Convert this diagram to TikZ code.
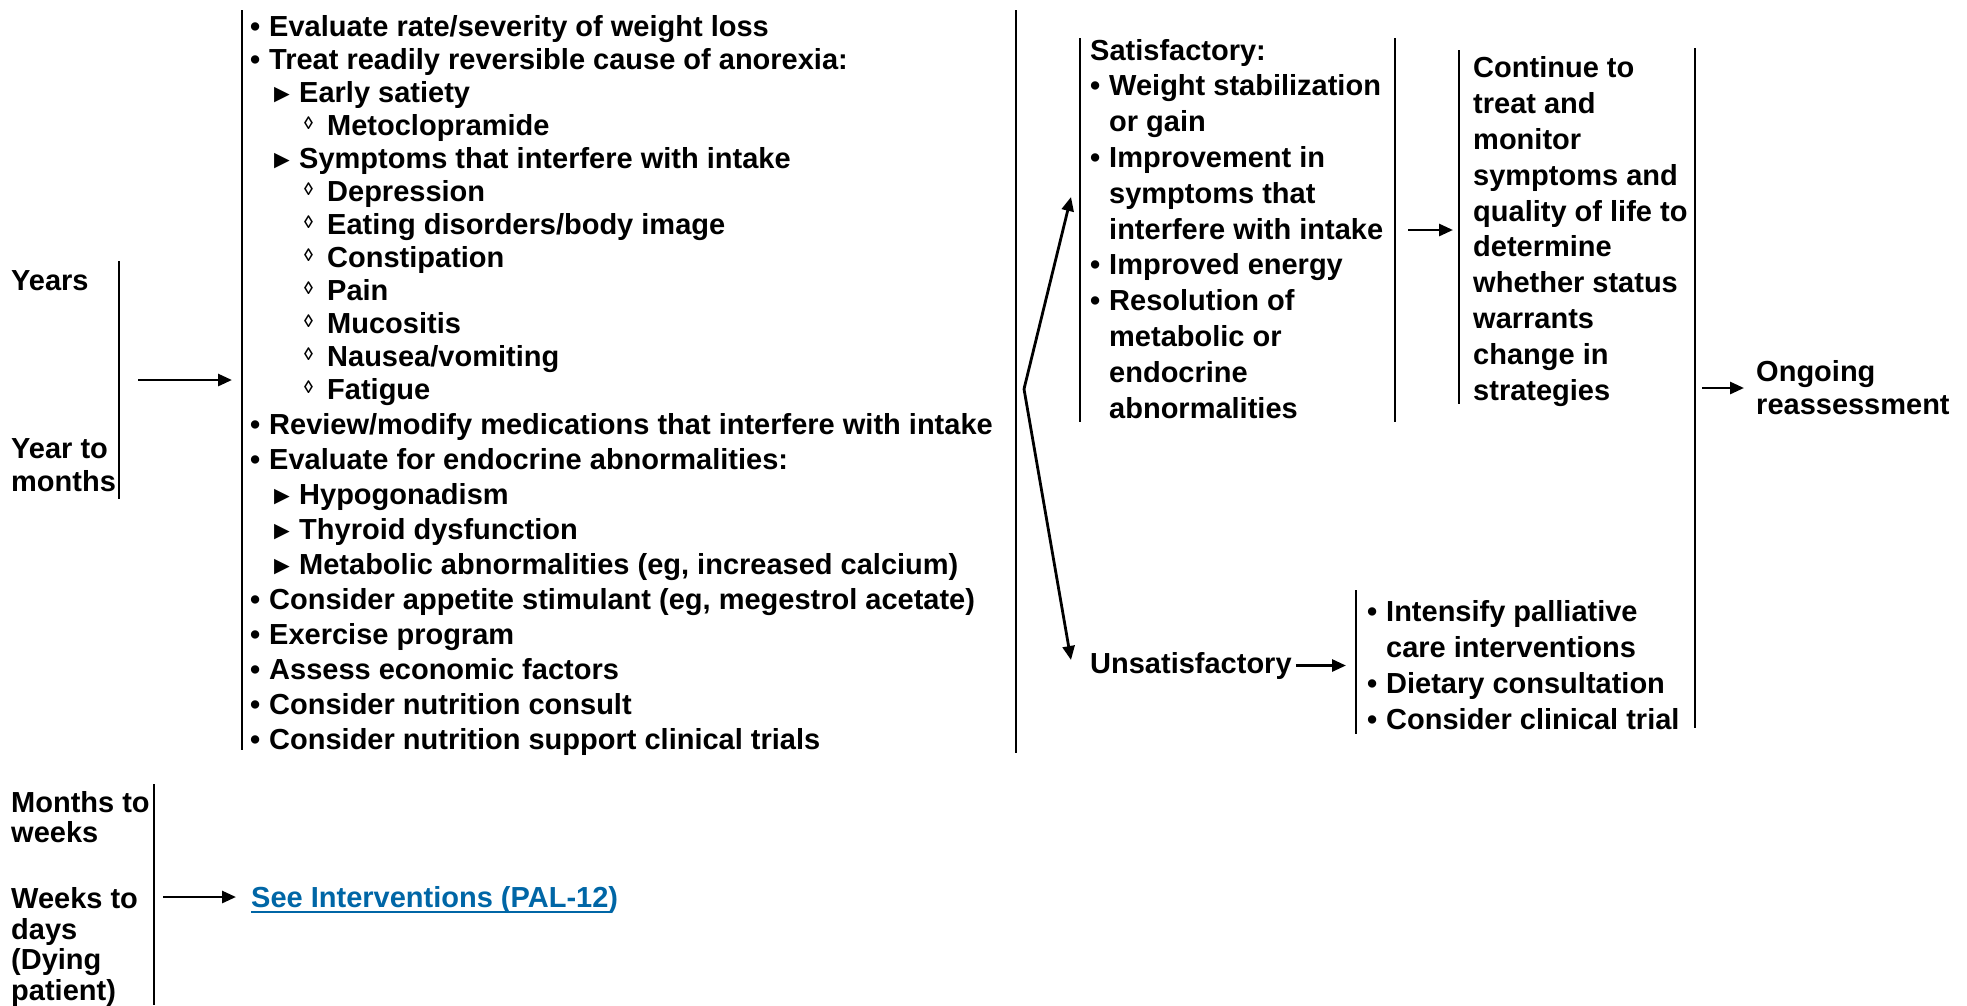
\documentclass[tikz,border=0pt]{standalone}
\usepackage{fontspec}
\setmainfont{Liberation Sans}
\usetikzlibrary{arrows.meta}

\definecolor{linkblue}{RGB}{0,102,166}
\newcommand{\lvlone}{\makebox[19pt][l]{•}}
\newcommand{\lvltwo}{\hspace*{19pt}\makebox[30pt][l]{\fontsize{26}{26}\selectfont ►}}
\newcommand{\lvlthree}{\hspace*{54pt}\makebox[23pt][l]{\raisebox{6pt}{\fontsize{18}{18}\selectfont ◊}}}
\newcommand{\indl}{\hspace*{19pt}}

\begin{document}
\begin{tikzpicture}[x=1pt,y=-1pt,
      every node/.style={inner sep=0pt,anchor=base west,align=left,
        font=\fontsize{29}{33}\selectfont\bfseries},
      wide/.style={font=\fontsize{29}{35.8}\selectfont\bfseries},
      bar/.style={line width=2.8pt},
      arr/.style={line width=2.8pt,-{Triangle[length=14pt,width=12pt]}}
    ]
    \useasboundingbox (0,0) rectangle (1967,1005);
    % (a multi-line node sits on the baseline of its last line)

    % the time frames
    \node (years) at (11,290) {Years};
    \node (yrmon) at (11,491) {Year to\\months};
    \node[font=\fontsize{29}{30}\selectfont\bfseries] (mowk) at (11,842) {Months to\\weeks};
    \node[font=\fontsize{29}{30.5}\selectfont\bfseries] (wkday) at (11,1000) {Weeks to\\days\\(Dying\\patient)};
    \draw[bar] (119,261) -- coordinate (tbar) (119,499);
    \draw[bar] (154,784) -- (154,1005);
    \coordinate (bbar) at (154,897);

    % the interventions
    \node (main) at (250,749) {\lvlone Evaluate rate/severity of weight loss\\
      \lvlone Treat readily reversible cause of anorexia:\\
      \lvltwo Early satiety\\
      \lvlthree Metoclopramide\\
      \lvltwo Symptoms that interfere with intake\\
      \lvlthree Depression\\
      \lvlthree Eating disorders/body image\\
      \lvlthree Constipation\\
      \lvlthree Pain\\
      \lvlthree Mucositis\\
      \lvlthree Nausea/vomiting\\
      \lvlthree Fatigue\\[2pt]
      \lvlone Review/modify medications that interfere with intake\\[2pt]
      \lvlone Evaluate for endocrine abnormalities:\\[2pt]
      \lvltwo Hypogonadism\\[2pt]
      \lvltwo Thyroid dysfunction\\[2pt]
      \lvltwo Metabolic abnormalities (eg, increased calcium)\\[2pt]
      \lvlone Consider appetite stimulant (eg, megestrol acetate)\\[2pt]
      \lvlone Exercise program\\[2pt]
      \lvlone Assess economic factors\\[2pt]
      \lvlone Consider nutrition consult\\[2pt]
      \lvlone Consider nutrition support clinical trials};
    \draw[bar] (242,10) -- coordinate (mainL) (242,750);
    \draw[bar] (1016,10) -- (1016,753);
    \coordinate (split) at (1024,389);

    % the outcomes
    \node[wide] (sat) at (1090,418) {Satisfactory:\\
      \lvlone Weight stabilization\\
      \indl or gain\\
      \lvlone Improvement in\\
      \indl symptoms that\\
      \indl interfere with intake\\
      \lvlone Improved energy\\
      \lvlone Resolution of\\
      \indl metabolic or\\
      \indl endocrine\\
      \indl abnormalities};
    \draw[bar] (1080,38) -- (1080,422);
    \draw[bar] (1395,38) -- coordinate (satR) (1395,422);
    \coordinate (up) at (1071,197);

    \node (unsat) at (1090,673) {Unsatisfactory};
    \coordinate (dn) at (1071,660);

    \node[font=\fontsize{29}{36}\selectfont\bfseries] (unslist) at (1367,729) {\lvlone Intensify palliative\\
      \indl care interventions\\
      \lvlone Dietary consultation\\
      \lvlone Consider clinical trial};
    \draw[bar] (1356,590) -- coordinate (unsL) (1356,734);

    \node[wide] (cont) at (1473,400) {Continue to\\treat and\\monitor\\symptoms and\\quality of life to\\determine\\whether status\\warrants\\change in\\strategies};
    \draw[bar] (1459,50) -- coordinate (contL) (1459,404);
    \draw[bar] (1695,48) -- coordinate (longR) (1695,728);

    \node (ongo) at (1756,414) {Ongoing\\reassessment};

    \node[text=linkblue] (pal) at (251,907) {See Interventions (PAL-12)};
    \draw[linkblue,line width=2pt] ([yshift=-5pt]pal.base west) -- ([yshift=-5pt,xshift=-6pt]pal.base east);

    % the arrows
    \draw[arr] ([xshift=19pt]tbar) -- ([xshift=-10pt]mainL);
    \draw[arr] (split) -- (up);
    \draw[arr] (split) -- (dn);
    \draw[arr] ([xshift=13pt]satR) -- ([xshift=-6pt]contL |- satR);
    \draw[arr] ([xshift=7pt]longR) -- ([xshift=-12pt]ongo.west |- longR);
    \draw[arr] ([xshift=4pt]unsat.east) -- ([xshift=-10pt]unsat.east -| unsL);
    \draw[arr] ([xshift=9pt]bbar) -- ([xshift=-15pt]pal.west |- bbar);
\end{tikzpicture}
\end{document}
